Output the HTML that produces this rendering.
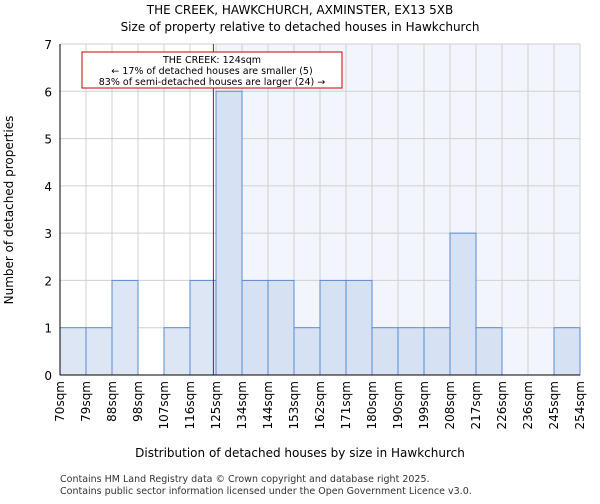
<!DOCTYPE html>
<html><head><meta charset="utf-8"><style>
body{margin:0;background:#fff;font-family:"DejaVu Sans","Liberation Sans",sans-serif}
</style></head><body>
<svg id="c" width="600" height="500" xmlns="http://www.w3.org/2000/svg" font-family="DejaVu Sans, Liberation Sans, sans-serif">
<text x="300" y="14" text-anchor="middle" font-size="12">THE CREEK, HAWKCHURCH, AXMINSTER, EX13 5XB</text>
<text x="300" y="31" text-anchor="middle" font-size="12">Size of property relative to detached houses in Hawkchurch</text>
<g id="plot"></g>
<text x="300" y="457" text-anchor="middle" font-size="12">Distribution of detached houses by size in Hawkchurch</text>
<text transform="translate(13,210) rotate(-90)" text-anchor="middle" font-size="12">Number of detached properties</text>
<text x="60" y="482" font-size="9.5" fill="#333">Contains HM Land Registry data © Crown copyright and database right 2025.</text>
<text x="60" y="494" font-size="9.5" fill="#333">Contains public sector information licensed under the Open Government Licence v3.0.</text>
</svg>
<script>
const binLabels=["70sqm","79sqm","88sqm","98sqm","107sqm","116sqm","125sqm","134sqm","144sqm","153sqm","162sqm","171sqm","180sqm","190sqm","199sqm","208sqm","217sqm","226sqm","236sqm","245sqm","254sqm"];
const counts=[1,1,2,0,1,2,6,2,2,1,2,2,1,1,1,3,1,0,0,1];
const yTicks=[0,1,2,3,4,5,6,7];
const propertyBin=5.9;
const ns="http://www.w3.org/2000/svg";
const g=document.getElementById("plot");
const L=60,R=580,T=44,B=375,nb=binLabels.length-1;
const x=i=>L+(R-L)*i/nb;
const y=v=>B-(B-T)*v/7;
function mk(t,a,p){const e=document.createElementNS(ns,t);for(const k in a)e.setAttribute(k,a[k]);(p||g).appendChild(e);return e;}
let e;
const sx=x(Math.ceil(propertyBin));
e=mk("rect",{x:sx,y:T,width:R-sx,height:B-T,fill:"#f3f5fd"});


for(const t of yTicks){e=mk("line",{x1:L,x2:R,y1:y(t),y2:y(t),stroke:"#d0d0d0"});


e=mk("text",{x:L-8,y:y(t)+5,"text-anchor":"end","font-size":"12"});e.textContent=t;

}
for(let i=0;i<=nb;i++){e=mk("line",{x1:x(i),x2:x(i),y1:T,y2:B,stroke:"#d0d0d0"});


e=mk("text",{transform:`translate(${x(i)+4},${B+6}) rotate(-90)`,"text-anchor":"end","font-size":"12"});e.textContent=binLabels[i];

}
for(let i=0;i<nb;i++){if(!counts[i])continue;
e=mk("rect",{x:x(i),y:y(counts[i]),width:x(i+1)-x(i),height:B-y(counts[i]),fill:i>=Math.ceil(propertyBin)?"#d6e1f3":"#dce6f4",stroke:"#5b8bd0","stroke-width":1});

}
e=mk("line",{x1:x(propertyBin),x2:x(propertyBin),y1:T,y2:B,stroke:"#c00","stroke-width":1});


e=mk("line",{x1:L,x2:R,y1:B,y2:B,stroke:"#000"});


e=mk("line",{x1:L,x2:L,y1:T,y2:B,stroke:"#000"});


e=mk("rect",{x:82,y:52,width:260,height:36,fill:"#fff",stroke:"#c00"});


const lines=["THE CREEK: 124sqm","← 17% of detached houses are smaller (5)","83% of semi-detached houses are larger (24) →"];
lines.forEach((s,k)=>{e=mk("text",{x:212,y:63+k*11,"text-anchor":"middle","font-size":"9.5"});e.textContent=s;

});
</script>
</body></html>
